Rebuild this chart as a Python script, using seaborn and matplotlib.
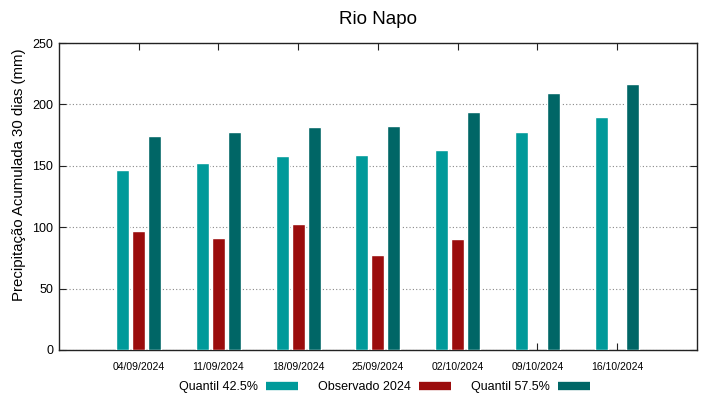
import numpy as np
import pandas as pd
import matplotlib
matplotlib.use('Agg')
import matplotlib.pyplot as plt
from matplotlib.lines import Line2D
import seaborn as sns

dates = ['04/09/2024', '11/09/2024', '18/09/2024', '25/09/2024',
         '02/10/2024', '09/10/2024', '16/10/2024']
q425 = [147, 152.5, 158, 159, 163, 177.5, 190]
obs2024 = [97, 91.5, 102.5, 77, 90, np.nan, np.nan]
q575 = [174, 177.5, 182, 182.5, 193.5, 209, 216.5]

series = ['Quantil 42.5%', 'Observado 2024', 'Quantil 57.5%']
colors = ['#009a9a', '#9b0d0d', '#006666']

df = pd.DataFrame({
    'data': dates * 3,
    'serie': np.repeat(series, len(dates)),
    'valor': q425 + obs2024 + q575,
})

sns.set_style('ticks')
plt.rcParams['font.family'] = ['Liberation Sans', 'DejaVu Sans']
plt.rcParams['text.color'] = 'black'
plt.rcParams['axes.labelcolor'] = 'black'
plt.rcParams['xtick.color'] = 'black'
plt.rcParams['ytick.color'] = 'black'

fig = plt.figure(figsize=(7.19, 3.99), dpi=100)
ax = fig.add_axes([0.082, 0.123, 0.887, 0.769])

sns.barplot(data=df, x='data', y='valor', hue='serie', order=dates,
            hue_order=series, palette=colors, width=0.6, gap=0.18,
            saturation=1, errorbar=None, legend=False, ax=ax, zorder=3)

ax.set_xlim(-1, 7)
ax.set_ylim(0, 250)
ax.set_yticks(range(0, 251, 50))
ax.yaxis.grid(True, linestyle=(0, (1, 2)), color='#888888', lw=0.8, zorder=0)
ax.set_axisbelow(True)

for s in ax.spines.values():
    s.set_visible(True)
    s.set_color('#222222')
    s.set_linewidth(1.0)

ax.tick_params(axis='both', direction='in', top=True, right=True,
               length=5, width=0.8, color='#222222', labelcolor='black')
ax.tick_params(axis='x', labelsize=7.5, pad=9)
ax.tick_params(axis='y', labelsize=9, pad=4)

ax.set_xlabel('')
ax.set_ylabel('Precipitação Acumulada 30 dias (mm)', fontsize=10.8)
ax.yaxis.set_label_coords(-0.052, 0.57)
ax.set_title('Rio Napo', fontsize=13.5, pad=14, color='black')

handles = [Line2D([0], [0], color=c, lw=6, solid_capstyle='butt') for c in colors]
fig.legend(handles, series, loc='center', bbox_to_anchor=(0.535, 0.03),
           ncol=3, markerfirst=False, frameon=False, fontsize=9,
           handlelength=2.6, handletextpad=0.6, columnspacing=1.6)

fig.savefig('out.png', dpi=100)
